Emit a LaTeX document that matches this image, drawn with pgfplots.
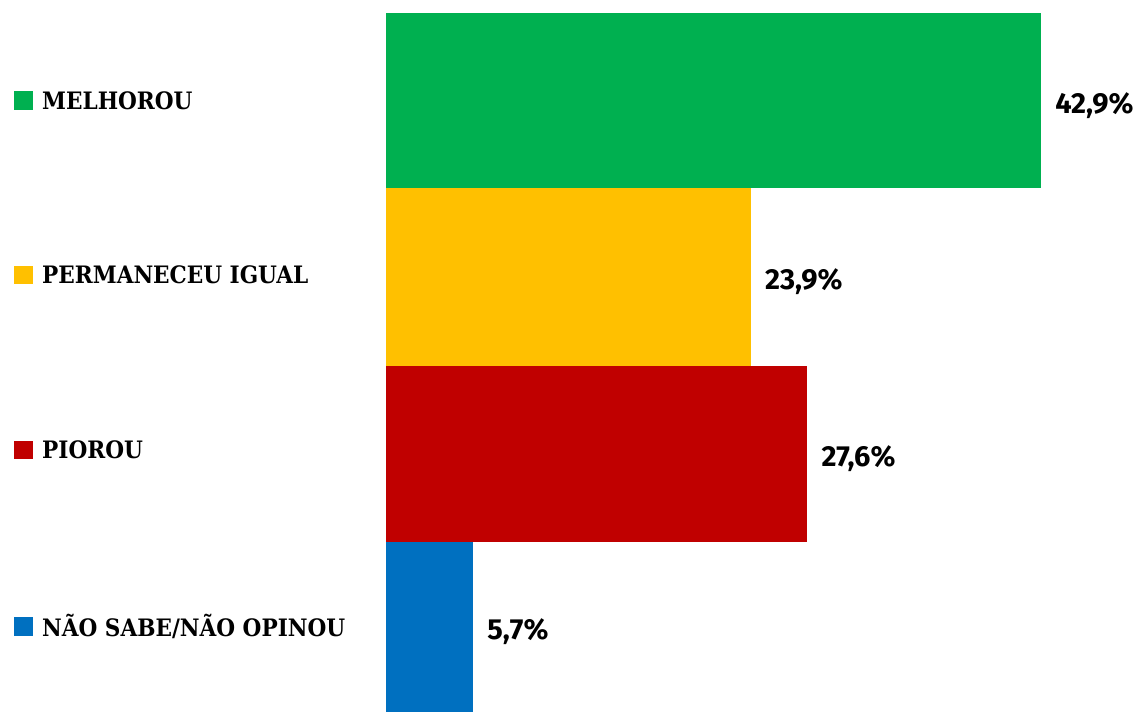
\documentclass[border=0pt]{standalone}
\usepackage{pgfplots}
\pgfplotsset{compat=1.18}
\usepackage{fontspec}
\setmainfont{Fira Sans}
\newfontfamily\slab{DejaVu Serif Condensed}
\definecolor{cg}{HTML}{00B050}
\definecolor{cy}{HTML}{FFC000}
\definecolor{cr}{HTML}{C00000}
\definecolor{cb}{HTML}{0070C0}
\tikzset{
  sq/.style={fill=#1, minimum size=18.5pt, inner sep=0pt, outer sep=0pt},
  lab/.style={anchor=west, inner sep=0pt, font=\slab\fontsize{24}{24}\selectfont\bfseries},
}
\begin{document}
\begin{tikzpicture}
\begin{axis}[
  scale only axis, width=1142pt, height=712pt,
  xmin=-25.28, xmax=49.51, ymin=-0.574, ymax=3.5, y dir=reverse,
  hide axis, clip=false,
  xbar, bar shift=0pt,
  nodes near coords={\pgfmathprintnumber{\pgfplotspointmeta}\%},
  nodes near coords style={anchor=west, inner sep=0pt, xshift=14pt, yshift=-5pt,
    font=\fontsize{29}{29}\selectfont\bfseries, text=black,
    /pgf/number format/.cd, use comma, fixed, fixed zerofill, precision=1, assume math mode=true},
]
\addplot[draw=none, fill=cg, bar width=1.0014] coordinates {(42.9,0)};
\addplot[draw=none, fill=cy, bar width=1.0186] coordinates {(23.9,1.011)};
\addplot[draw=none, fill=cr, bar width=1.007] coordinates {(27.6,2.024)};
\addplot[draw=none, fill=cb, bar width=0.973] coordinates {(5.7,3.014)};
\path (axis cs:-25.28,-0.574) rectangle (axis cs:49.51,3.5);
\node[sq=cg] at (axis cs:-23.74,0) {};
\node[sq=cy] at (axis cs:-23.74,1.0) {};
\node[sq=cr] at (axis cs:-23.74,2.0) {};
\node[sq=cb] at (axis cs:-23.74,3.01) {};
\node[lab] at (axis cs:-22.53,0) {MELHOROU};
\node[lab] at (axis cs:-22.53,1.0) {PERMANECEU IGUAL};
\node[lab] at (axis cs:-22.53,2.0) {PIOROU};
\node[lab] at (axis cs:-22.53,3.01) {NÃO SABE/NÃO OPINOU};
\end{axis}
\end{tikzpicture}
\end{document}
